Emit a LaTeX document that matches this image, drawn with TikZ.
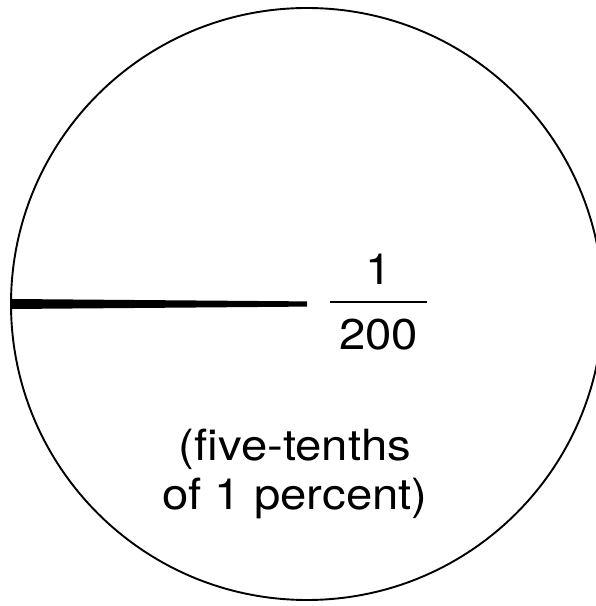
\documentclass[tikz,border=0pt]{standalone}
\usepackage{fontspec}
\newfontfamily\piefont[FakeStretch=1.1]{TeX Gyre Heros}

\tikzset{
    lbl/.style={font=\piefont\fontsize{43}{50}\selectfont, inner sep=0pt, anchor=base},
}

\begin{document}
\begin{tikzpicture}[x=1pt, y=1pt]
        \useasboundingbox (0,0) rectangle (596,606);
        \clip (0,0) rectangle (596,606);

        % the whole pie
        \node[draw, circle, line width=1.9pt, minimum size=592pt, inner sep=0pt, outer sep=0pt] (pie) at (307,302) {};

        % thin slice: one radius, tapering towards the middle
        \fill ([yshift=5pt]pie.west) -- ([yshift=2.6pt]pie.center)
            -- ([yshift=-2.6pt]pie.center) -- ([yshift=-5pt]pie.west) -- cycle;

        % the fraction
        \node[lbl] (num) at (378.5,321) {1};
        \coordinate (barL) at (330,304);
        \coordinate (barR) at (427,304);
        \draw[line width=1.5pt] (barL) -- (barR);
        \node[lbl] (den) at (378.5,256) {200};

        \node[lbl] (note1) at (295,145) {(five-tenths};
        \node[lbl] (note2) at (295,96.5) {of 1 percent)};
    \end{tikzpicture}
\end{document}
